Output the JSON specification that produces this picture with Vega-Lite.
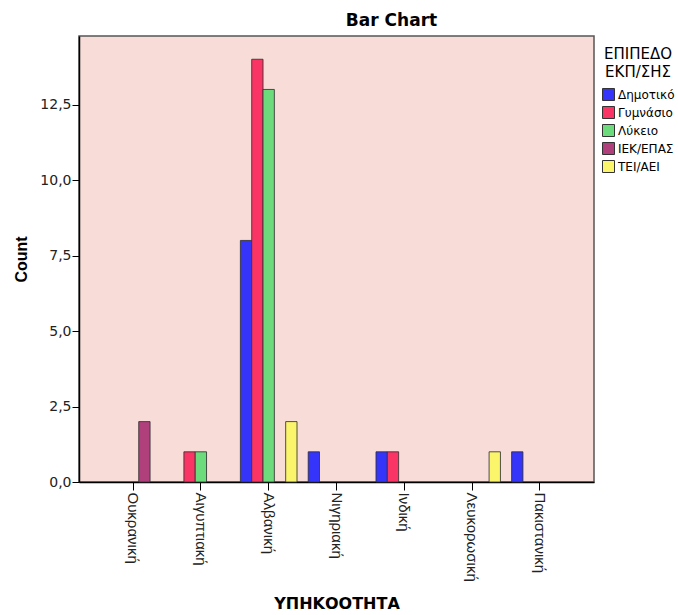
{
  "$schema": "https://vega.github.io/schema/vega-lite/v6.json",
  "autosize": "none",
  "width": 515,
  "height": 446,
  "padding": {"left": 79, "top": 36, "right": 84, "bottom": 133},
  "background": "#ffffff",
  "title": {"text": "Bar Chart", "font": "DejaVu Sans", "fontSize": 17, "fontWeight": "bold", "color": "#000000", "anchor": "middle", "dx": 55, "offset": 6},
  "data": {"values": [
    {"nationality": "Ουκρανική", "level": "ΙΕΚ/ΕΠΑΣ", "count": 2},
    {"nationality": "Αιγυπτιακή", "level": "Γυμνάσιο", "count": 1},
    {"nationality": "Αιγυπτιακή", "level": "Λύκειο", "count": 1},
    {"nationality": "Αλβανική", "level": "Δημοτικό", "count": 8},
    {"nationality": "Αλβανική", "level": "Γυμνάσιο", "count": 14},
    {"nationality": "Αλβανική", "level": "Λύκειο", "count": 13},
    {"nationality": "Αλβανική", "level": "ΤΕΙ/ΑΕΙ", "count": 2},
    {"nationality": "Νιγηριακή", "level": "Δημοτικό", "count": 1},
    {"nationality": "Ινδική", "level": "Δημοτικό", "count": 1},
    {"nationality": "Ινδική", "level": "Γυμνάσιο", "count": 1},
    {"nationality": "Λευκορωσική", "level": "ΤΕΙ/ΑΕΙ", "count": 1},
    {"nationality": "Πακιστανική", "level": "Δημοτικό", "count": 1}
  ]},
  "mark": {"type": "bar", "stroke": "#333333", "strokeWidth": 1, "strokeOpacity": 0.85},
  "encoding": {
    "x": {
      "field": "nationality", "type": "nominal",
      "scale": {"domain": ["Ουκρανική", "Αιγυπτιακή", "Αλβανική", "Νιγηριακή", "Ινδική", "Λευκορωσική", "Πακιστανική"], "paddingInner": 0.165, "paddingOuter": 0.38},
      "axis": {"title": "ΥΠΗΚΟΟΤΗΤΑ", "titleFont": "DejaVu Sans", "titleFontSize": 16, "titleFontWeight": "bold", "titleColor": "#000000", "titlePadding": 14,
               "labelAngle": 90, "labelFont": "Liberation Sans", "labelFontSize": 15, "labelColor": "#222222", "labelPadding": 2,
               "tickSize": 8, "tickColor": "#000000", "domainColor": "#000000", "domainWidth": 1.5, "grid": false}
    },
    "xOffset": {
      "field": "level", "type": "nominal",
      "scale": {"domain": ["Δημοτικό", "Γυμνάσιο", "Λύκειο", "ΙΕΚ/ΕΠΑΣ", "ΤΕΙ/ΑΕΙ"], "paddingInner": 0, "paddingOuter": 0}
    },
    "y": {
      "field": "count", "type": "quantitative",
      "scale": {"domain": [0, 14.77], "nice": false, "zero": true},
      "axis": {"title": "Count", "titleFont": "Liberation Sans", "titleFontSize": 16, "titleFontWeight": "bold", "titleColor": "#000000", "titlePadding": 10,
               "values": [0, 2.5, 5, 7.5, 10, 12.5],
               "labelExpr": "replace(format(datum.value, '.1f'), '.', ',')",
               "labelFont": "DejaVu Sans", "labelFontSize": 14, "labelColor": "#222222", "labelPadding": 1,
               "tickSize": 7, "tickColor": "#000000", "domainColor": "#000000", "domainWidth": 1.5, "grid": false}
    },
    "color": {
      "field": "level", "type": "nominal",
      "scale": {"domain": ["Δημοτικό", "Γυμνάσιο", "Λύκειο", "ΙΕΚ/ΕΠΑΣ", "ΤΕΙ/ΑΕΙ"],
                "range": ["#3434fa", "#fa3465", "#6cdb7c", "#b0407c", "#fbf56c"]},
      "legend": {
        "title": ["ΕΠΙΠΕΔΟ", "ΕΚΠ/ΣΗΣ"],
        "orient": "none", "legendX": 523, "legendY": 11,
        "titleFont": "DejaVu Sans", "titleFontSize": 15, "titleFontWeight": "normal", "titleColor": "#000000",
        "titleAnchor": "middle", "titleAlign": "center", "titleLineHeight": 18, "titlePadding": 8,
        "labelFont": "DejaVu Sans", "labelFontSize": 12, "labelColor": "#000000", "labelOffset": 3, "labelLimit": 80,
        "symbolType": "square", "symbolSize": 144, "symbolStrokeColor": "#333333", "symbolStrokeWidth": 1, "symbolOpacity": 1,
        "rowPadding": 1
      }
    }
  },
  "config": {
    "view": {"fill": "#f7dcd7", "stroke": "#555555", "strokeWidth": 1.5}
  }
}
